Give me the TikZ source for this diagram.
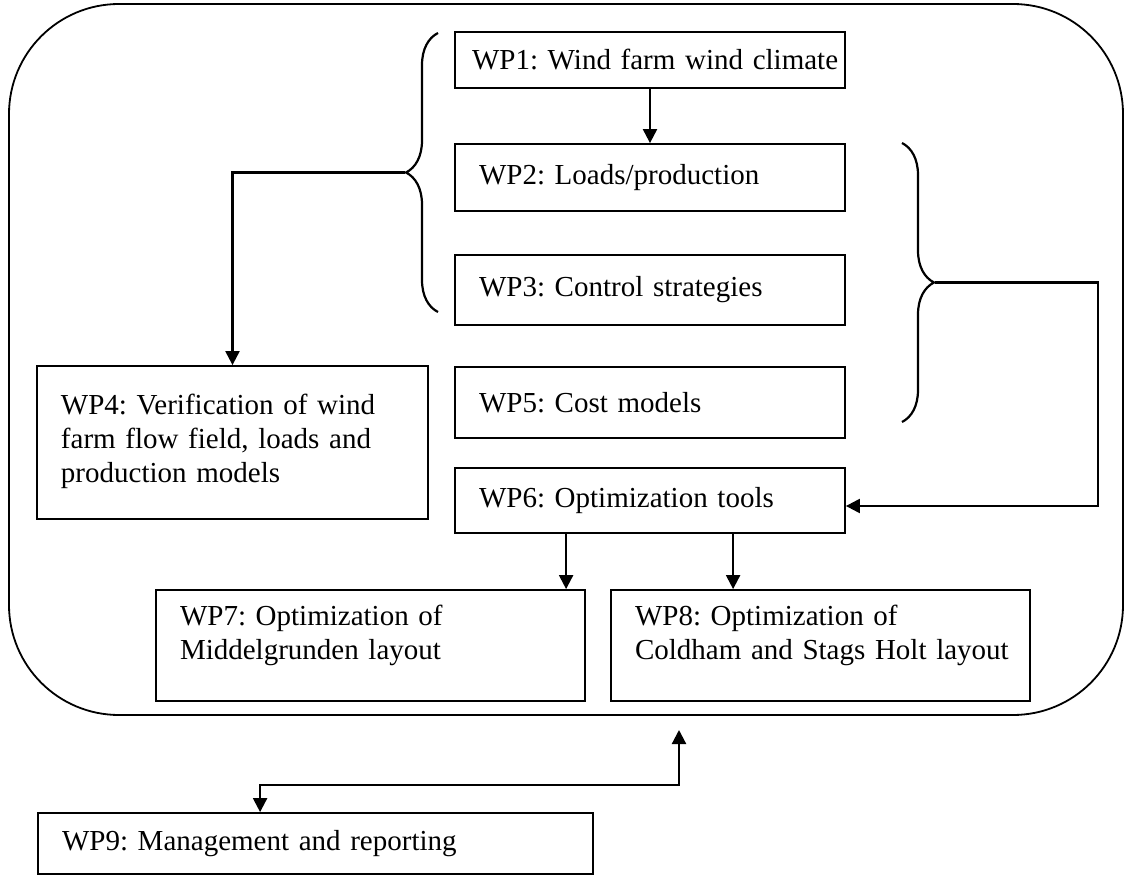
\documentclass[tikz,border=0pt]{standalone}
\usepackage{fontspec}
\setmainfont{Liberation Serif}
\usetikzlibrary{arrows.meta,decorations.pathreplacing}
\tikzset{
  wp/.style={draw, line width=.9pt, align=left, inner xsep=12pt, inner ysep=2pt, font=\fontsize{14.5}{17}\selectfont,
    execute at begin node={\frenchspacing\hyphenpenalty=10000\hbadness=10000\hfuzz=50pt}},
  ar/.style={-{Triangle[length=7pt,width=7pt]}, line width=1.1pt},
  dar/.style={{Triangle[length=7pt,width=7pt]}-{Triangle[length=7pt,width=7pt]}, line width=1.1pt},
  brc/.style={decorate, decoration={brace, amplitude=16pt}, line width=1.1pt},
}
\begin{document}
\begin{tikzpicture}[x=0.5pt, y=-0.5pt]
    \useasboundingbox (0,0) rectangle (1125,877);
    % rahmen
    \draw[line width=.9pt, rounded corners=55pt] (9,4) rectangle (1123,715);

    % stapel in der mitte
    \node[wp, inner xsep=8.5pt, text width=178pt, minimum height=28pt] (wp1) at (650,60) {\mbox{WP1: Wind farm wind climate}};
    \node[wp, text width=171pt, minimum height=33.5pt] (wp2) at (650,177.5) {\mbox{WP2: Loads/production}};
    \node[wp, text width=171pt, minimum height=35pt] (wp3) at (650,290) {\mbox{WP3: Control strategies}};
    \node[wp, text width=171pt, minimum height=35.5pt] (wp5) at (650,402.5) {\mbox{WP5: Cost models}};
    \node[wp, text width=171pt, minimum height=32.5pt] (wp6) at (650,500.5) {\mbox{WP6: Optimization tools}};

    \node[wp, text width=171.5pt, minimum height=76.5pt] (wp4) at (232.5,442.5) {\mbox{WP4: Verification of wind}\\\mbox{farm flow field, loads and}\\production models\\[-13pt]\mbox{}};
    \node[wp, text width=190.5pt, minimum height=55.5pt] (wp7) at (370.5,645.5) {WP7: Optimization of\\Middelgrunden layout\\[-4pt]\mbox{}};
    \node[wp, text width=185.5pt, minimum height=55.5pt] (wp8) at (820.5,645.5) {WP8: Optimization of\\\mbox{Coldham and Stags Holt layout}\\[-4pt]\mbox{}};
    \node[wp, text width=253.5pt, minimum height=30.5pt] (wp9) at (315.5,843.5) {\mbox{WP9: Management and reporting}};

    % klammern
    \draw[brc] (438,312) -- (438,33);
    \coordinate (lbtip) at (405,172.5);
    \draw[brc] (902,143) -- (902,422);
    \coordinate (rbtip) at (935,282.5);

    % pfeile
    \draw[ar] (wp1.south) -- (wp2.north);
    \draw[ar] (lbtip) -| (wp4.north);
    \coordinate (r6) at ([yshift=-2.75pt]wp6.east);
    \draw[ar] (rbtip) -| ([xshift=126pt]r6) -- (r6);
    \draw[ar] ([xshift=56pt]wp6.south west) coordinate (a7) -- (a7 |- wp7.north);
    \draw[ar] ([xshift=139.5pt]wp6.south west) coordinate (a8) -- (a8 |- wp8.north);
    \coordinate (frame) at (679,730);
    \draw[dar] (frame) -- ++(0,55) -| ([xshift=111.5pt]wp9.north west);
\end{tikzpicture}
\end{document}
